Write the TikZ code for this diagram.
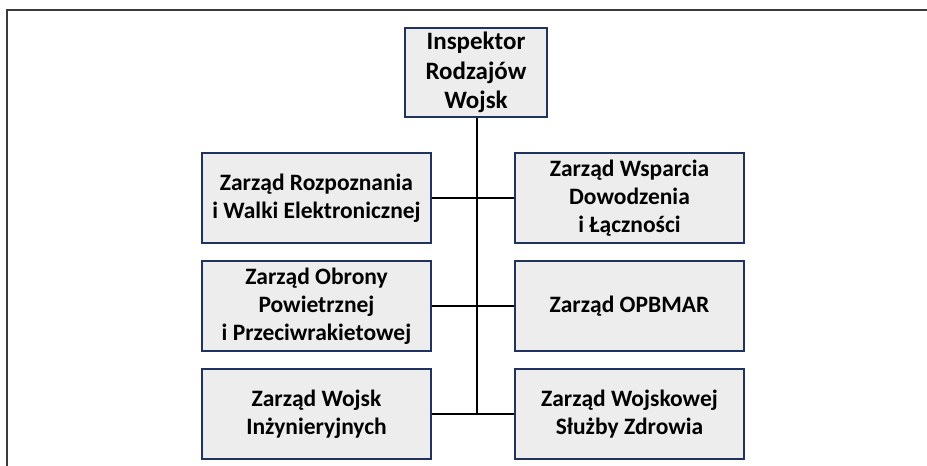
\documentclass[tikz,border=0pt]{standalone}
\usepackage{fontspec}
\setmainfont{Carlito}
\usetikzlibrary{positioning}
\definecolor{boxfill}{HTML}{EDEDED}
\definecolor{boxline}{HTML}{22325E}
\definecolor{framegray}{HTML}{3A3A3A}
\begin{document}
\begin{tikzpicture}[x=1pt, y=1pt, node distance={16.5pt}, line width=1.5pt,
    main/.style = {draw=boxline, fill=boxfill, line width=1.6pt, minimum width=229pt, minimum height=90pt, inner sep=0pt, align=center, font=\fontsize{23.5}{28}\selectfont\bfseries},
    head/.style = {main, minimum width=142pt, minimum height=89pt, font=\fontsize{25}{29.5}\selectfont\bfseries}]
		\useasboundingbox (0,0) rectangle (927,-466);
		\draw[framegray, line width=2pt] (7,-466) -- (7,-10) -- (927,-10);
		\node[head] (1) at (476,-72.5) {Inspektor\\Rodzajów\\Wojsk};
		\node[main] (2) at (316.5,-198) {Zarząd Rozpoznania\\i Walki Elektronicznej};
		\node[main] (3) at (629.5,-198) {Zarząd Wsparcia\\Dowodzenia\\i Łączności};
		\node[main] (4) [below=of 2] {Zarząd Obrony\\Powietrznej\\i Przeciwrakietowej};
		\node[main] (5) [below=of 3] {Zarząd OPBMAR};
		\node[main] (6) [below=of 4] {Zarząd Wojsk\\Inżynieryjnych};
		\node[main] (7) [below=of 5] {Zarząd Wojskowej\\Służby Zdrowia};
		\coordinate (8) at (477,0 |- 6);
		\draw (1.south -| 8) -- (8);
		\draw (2) -- (3);
		\draw (4) -- (5);
		\draw (6) -- (7);
		\end{tikzpicture}
\end{document}
